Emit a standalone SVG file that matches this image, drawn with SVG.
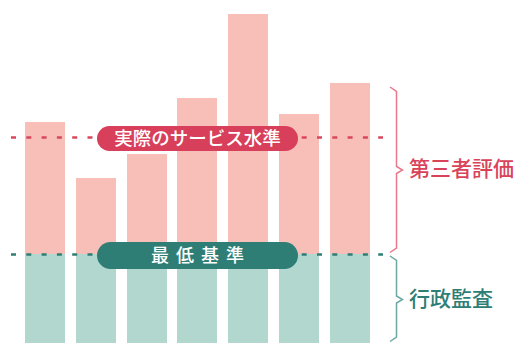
<svg xmlns="http://www.w3.org/2000/svg" width="518" height="343" viewBox="0 0 518 343">
<style>
.pink{fill:#f8beb8}
.green{fill:#b1d7cf}
.lbl{font-family:"Noto Sans CJK JP","Noto Sans",sans-serif;font-weight:500;}
</style>
<rect width="518" height="343" fill="#fff"/>
<g id="bars">
<rect class="pink" x="25" y="122" width="40" height="132"/>
<rect class="pink" x="76" y="178" width="40" height="76"/>
<rect class="pink" x="127" y="154" width="40" height="100"/>
<rect class="pink" x="177" y="98" width="40" height="156"/>
<rect class="pink" x="228" y="14" width="40" height="240"/>
<rect class="pink" x="279" y="114" width="40" height="140"/>
<rect class="pink" x="330" y="83" width="40" height="171"/>
<rect class="green" x="25" y="254" width="40" height="89"/>
<rect class="green" x="76" y="254" width="40" height="89"/>
<rect class="green" x="127" y="254" width="40" height="89"/>
<rect class="green" x="177" y="254" width="40" height="89"/>
<rect class="green" x="228" y="254" width="40" height="89"/>
<rect class="green" x="279" y="254" width="40" height="89"/>
<rect class="green" x="330" y="254" width="40" height="89"/>
</g>
<g id="connectors">
<line x1="11" y1="137.5" x2="383" y2="137.5" stroke="#d8475e" stroke-width="2.5" stroke-dasharray="5 10.3"/>
<line x1="11" y1="254.5" x2="383" y2="254.5" stroke="#2f7e76" stroke-width="2.5" stroke-dasharray="5 10.3"/>
<path d="M390 87 L396.5 91.5 L396.5 166.5 L402.5 170 L396.5 173.5 L396.5 248 L390 252.5" fill="none" stroke="#e8798c" stroke-width="1.5"/>
<path d="M390 256 L396.5 260.5 L396.5 296 L402.5 299.5 L396.5 303 L396.5 337 L390 341.5" fill="none" stroke="#6aa9a2" stroke-width="1.5"/>
</g>
<g id="service-level">
<rect x="97" y="126" width="201" height="25" rx="12.5" fill="#d83f5b"/>
<text class="lbl" x="197.5" y="145" font-size="18.5" fill="#fff" text-anchor="middle">実際のサービス水準</text>
</g>
<g id="minimum-standard">
<rect x="97" y="242" width="201" height="27" rx="13.5" fill="#2f7e76"/>
<text class="lbl" x="201" y="262" font-size="18" fill="#fff" text-anchor="middle" letter-spacing="7">最低基準</text>
</g>
<g id="third-party">
<text class="lbl" x="409" y="176" font-size="21" fill="#d9435a">第三者評価</text>
</g>
<g id="admin-audit">
<text class="lbl" x="409" y="306" font-size="21" fill="#2f7e76">行政監査</text>
</g>
</svg>
